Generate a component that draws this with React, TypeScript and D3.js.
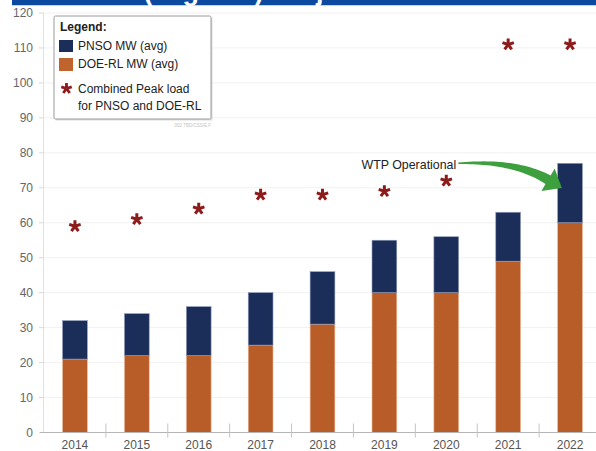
import React from "react";
import * as d3 from "d3";

const years = ["2014", "2015", "2016", "2017", "2018", "2019", "2020", "2021", "2022"];
const doeRL = [21, 22, 22, 25, 31, 40, 40, 49, 60];
const pnso = [11, 12, 14, 15, 15, 15, 16, 14, 17];
const peak = [59, 61, 64, 68, 68, 69, 72, 111, 111];
const yTicks = [0, 10, 20, 30, 40, 50, 60, 70, 80, 90, 100, 110, 120];

const W = 596;
const H = 451;
const FONT = "'Liberation Sans', Arial, sans-serif";
const NAVY = "#1b2d59";
const ORANGE = "#b85c28";
const STAR = "#8e1b1b";
const GREEN = "#3d9f3d";

function starPath(cx: number, cy: number, r: number) {
  let d = "";
  for (let k = 0; k < 5; k++) {
    const a = -Math.PI / 2 + (k * 2 * Math.PI) / 5;
    d += `M${cx},${cy}L${cx + r * Math.cos(a)},${cy + r * Math.sin(a)}`;
  }
  return d;
}

export default function App() {
  const x = d3.scalePoint<string>().domain(years).range([44, 601]).padding(0.5);
  const step = x.step();
  const barW = step * 0.4;
  const y = d3.scaleLinear().domain([0, 120]).range([432.5, 13]);

  // arrow geometry anchored to scales
  const p0: [number, number] = [(x("2020") as number) + 12, y(77)];
  const p1: [number, number] = [(x("2022") as number) - 22, y(72.3)];
  const c: [number, number] = [p0[0] + 57, p0[1] - 3];
  const pts: [number, number][] = [];
  const ptsB: [number, number][] = [];
  const N = 30;
  for (let i = 0; i <= N; i++) {
    const t = i / N;
    const px = (1 - t) * (1 - t) * p0[0] + 2 * (1 - t) * t * c[0] + t * t * p1[0];
    const py = (1 - t) * (1 - t) * p0[1] + 2 * (1 - t) * t * c[1] + t * t * p1[1];
    const dx = 2 * (1 - t) * (c[0] - p0[0]) + 2 * t * (p1[0] - c[0]);
    const dy = 2 * (1 - t) * (c[1] - p0[1]) + 2 * t * (p1[1] - c[1]);
    const len = Math.hypot(dx, dy);
    const nx = -dy / len;
    const ny = dx / len;
    const hw = 0.8 + 4.2 * t;
    pts.push([px + nx * hw, py + ny * hw]);
    ptsB.push([px - nx * hw, py - ny * hw]);
  }
  const tdx = p1[0] - c[0];
  const tdy = p1[1] - c[1];
  const tl = Math.hypot(tdx, tdy);
  const tx = tdx / tl;
  const ty = tdy / tl;
  const nx = -ty;
  const ny = tx;
  const tip: [number, number] = [p1[0] + tx * 16, p1[1] + ty * 16];
  const h1: [number, number] = [p1[0] + nx * 13, p1[1] + ny * 13];
  const h2: [number, number] = [p1[0] - nx * 13, p1[1] - ny * 13];
  const arrowPoly = [...ptsB, h2, tip, h1, ...pts.slice().reverse()];
  const arrowD = "M" + arrowPoly.map((p) => `${p[0]},${p[1]}`).join("L") + "Z";

  const boundaries = d3.range(0, years.length + 1).map((i) => 44 + i * step);

  return (
    <svg
      width={W}
      height={H}
      style={{ position: "absolute", left: 0, top: 0, background: "#fff" }}
      fontFamily={FONT}
    >
      {/* top banner (cut off title) */}
      <rect x={12} y={0} width={W - 12} height={5.5} fill="#0b4a9e" />
      <text x={97} y={0} fill="#fff" fontSize={27} fontWeight="bold">
        SO (avg MW) Projected to 2022
      </text>
      <rect x={0} y={5.5} width={W} height={6} fill="#fff" />

      {/* gridlines */}
      {yTicks.map((t) => (
        <line key={"g" + t} x1={44} x2={W} y1={y(t)} y2={y(t)} stroke="#f1f1f1" strokeWidth={1} />
      ))}

      {/* y axis */}
      <line x1={43.5} x2={43.5} y1={y(120)} y2={y(0)} stroke="#e2e2e2" />
      {yTicks.map((t) => (
        <g key={"y" + t}>
          <line x1={39} x2={43.5} y1={y(t)} y2={y(t)} stroke="#d8d8d8" />
          <text x={33} y={y(t) + 4.3} textAnchor="end" fontSize={12} fill="#666">
            {t}
          </text>
        </g>
      ))}

      {/* bars */}
      {years.map((yr, i) => {
        const cx = x(yr) as number;
        return (
          <g key={"b" + yr}>
            <rect
              x={cx - barW / 2}
              y={y(doeRL[i])}
              width={barW}
              height={y(0) - y(doeRL[i])}
              fill={ORANGE}
              stroke="#e9b896"
              strokeWidth={0.6}
            />
            <rect
              x={cx - barW / 2}
              y={y(doeRL[i] + pnso[i])}
              width={barW}
              height={y(doeRL[i]) - y(doeRL[i] + pnso[i])}
              fill={NAVY}
              stroke="#8f9bb8"
              strokeWidth={0.6}
            />
          </g>
        );
      })}

      {/* x axis */}
      <line x1={40} x2={W} y1={y(0)} y2={y(0)} stroke="#b5b5b5" />
      {boundaries.slice(1).map((b, i) => (
        <line key={"xt" + i} x1={b} x2={b} y1={y(0) - 9} y2={y(0) + 5} stroke="#c4c4c4" />
      ))}
      {years.map((yr) => (
        <text key={"xl" + yr} x={x(yr) as number} y={449} textAnchor="middle" fontSize={12} fill="#555">
          {yr}
        </text>
      ))}

      {/* peak stars */}
      {years.map((yr, i) => (
        <path
          key={"s" + yr}
          d={starPath(x(yr) as number, y(peak[i]), 6)}
          stroke={STAR}
          strokeWidth={3}
          fill="none"
        />
      ))}

      {/* annotation */}
      <text x={(x("2020") as number) + 10} y={y(75.5)} textAnchor="end" fontSize={12.4} fill="#222">
        WTP Operational
      </text>
      <path d={arrowD} fill={GREEN} />

      {/* legend */}
      <rect x={55.5} y={17.5} width={157} height={103} fill="#bbb" opacity={0.5} />
      <rect x={54} y={16} width={157} height={103} fill="#fff" stroke="#9a9a9a" strokeWidth={1} rx={1.5} />
      <text x={60} y={31} fontSize={12} fontWeight="bold" fill="#222">
        Legend:
      </text>
      <rect x={59} y={40} width={14} height={12} fill={NAVY} />
      <text x={78} y={50} fontSize={12} fill="#222">
        PNSO MW (avg)
      </text>
      <rect x={59} y={58} width={14} height={13} fill="#c0642e" />
      <text x={78} y={68} fontSize={12} fill="#222">
        DOE-RL MW (avg)
      </text>
      <path d={starPath(66.5, 88.5, 5.5)} stroke={STAR} strokeWidth={2.8} fill="none" />
      <text x={78} y={93} fontSize={12} fill="#222">
        Combined Peak load
      </text>
      <text x={78} y={110} fontSize={12} fill="#222">
        for PNSO and DOE-RL
      </text>
      <text x={211} y={127} textAnchor="end" fontSize={4.5} fill="#c4c4c4">
        002 TBD/CSS/E.F
      </text>
    </svg>
  );
}
